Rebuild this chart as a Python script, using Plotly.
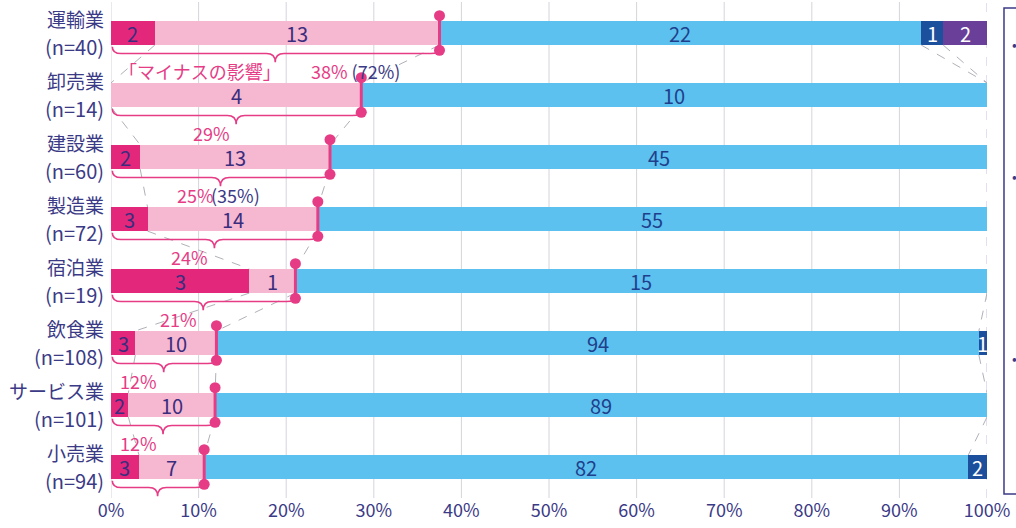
import plotly.graph_objects as go

# ---------------- data ----------------
industries = ["運輸業", "卸売業", "建設業", "製造業", "宿泊業", "飲食業", "サービス業", "小売業"]
n_counts = [40, 14, 60, 72, 19, 108, 101, 94]
major_minus = [2, 0, 2, 3, 3, 3, 2, 3]
minor_minus = [13, 4, 13, 14, 1, 10, 10, 7]
no_effect = [22, 10, 45, 55, 15, 94, 89, 82]
minor_plus = [1, 0, 0, 0, 0, 1, 0, 2]
major_plus = [2, 0, 0, 0, 0, 0, 0, 0]
series_names = ["大いにマイナス", "ややマイナス", "影響なし", "ややプラス", "大いにプラス"]
minus_pct_labels = ["38%", "29%", "25%", "24%", "21%", "12%", "12%", "11%"]
paren_labels = ["(72%)", "", "(35%)", "", "", "", "", ""]
first_row_caption = "「マイナスの影響」"
x_ticks = [0, 10, 20, 30, 40, 50, 60, 70, 80, 90, 100]

# ---------------- styles ----------------
FONT = "Noto Sans CJK JP"
seg_colors = ["#e3287c", "#f6b8d1", "#5cc1ef", "#1c4f9c", "#6a3f99"]
seg_text_colors = ["#3a2d7e", "#3a2d7e", "#1f3f8c", "#ffffff", "#ffffff"]
PINK = "#e63c86"
NAVY = "#3b3a86"
BAR_W = 0.39
HALF = BAR_W / 2

series = [major_minus, minor_minus, no_effect, minor_plus, major_plus]
rows = list(range(len(industries)))

fig = go.Figure()

# cumulative boundaries in percent
cum = []
for i in rows:
    acc = 0.0
    b = [0.0]
    for s in series:
        acc += s[i] / n_counts[i] * 100
        b.append(acc)
    cum.append(b)

# dashed connector lines between adjacent bars
cx, cy = [], []
for i in rows[:-1]:
    for k in range(1, 5):
        a, c = cum[i][k], cum[i + 1][k]
        if (a < 0.01 and c < 0.01) or (a > 99.99 and c > 99.99):
            continue
        cx += [a, c, None]
        cy += [i + HALF, i + 1 - HALF, None]
fig.add_trace(go.Scatter(x=cx, y=cy, mode="lines", showlegend=False, hoverinfo="skip",
                         line=dict(color="#b0b0b8", width=1, dash="dash")))

# stacked bars
for k, s in enumerate(series):
    vals = [s[i] / n_counts[i] * 100 for i in rows]
    fig.add_trace(go.Bar(
        y=rows, x=vals, base=[cum[i][k] for i in rows], orientation="h",
        name=series_names[k], width=BAR_W, marker=dict(color=seg_colors[k], line=dict(width=0)),
        showlegend=False, hoverinfo="skip"))

annotations = []
shapes = []

# segment count labels
for k, s in enumerate(series):
    for i in rows:
        if s[i] == 0:
            continue
        annotations.append(dict(
            x=(cum[i][k] + cum[i][k + 1]) / 2, y=i, xref="x", yref="y",
            text=str(s[i]), showarrow=False,
            font=dict(family=FONT, size=20, color=seg_text_colors[k])))

# end markers of the "minus" portion
mx, my = [], []
for i in rows:
    b2 = cum[i][2]
    mx += [b2, b2, None]
    my += [i - 0.28, i + 0.28, None]
fig.add_trace(go.Scatter(x=mx, y=my, mode="lines+markers", showlegend=False, hoverinfo="skip",
                         line=dict(color=PINK, width=3),
                         marker=dict(color=PINK, size=11)))

# braces and percent labels
for i in rows:
    x0, x1 = 0.15, cum[i][2]
    xm = x1 / 2
    y0, yh, yt = i + 0.22, i + 0.33, i + 0.47
    dx = 1.0
    path = (f"M {x0},{y0} Q {x0},{yh} {x0 + dx},{yh} L {xm - dx},{yh} "
            f"Q {xm},{yh} {xm},{yt} Q {xm},{yh} {xm + dx},{yh} "
            f"L {x1 - dx},{yh} Q {x1},{yh} {x1},{y0}")
    shapes.append(dict(type="path", path=path, xref="x", yref="y",
                       line=dict(color=PINK, width=1.6)))
    ly = i + 0.62
    if i == 0:
        annotations.append(dict(x=xm + 0.9, y=ly, xref="x", yref="y", xanchor="right",
                                text=first_row_caption, showarrow=False,
                                font=dict(family=FONT, size=18, color=PINK)))
        annotations.append(dict(
            x=xm + 3.8, y=ly, xref="x", yref="y", xanchor="left", showarrow=False,
            text=f"<span style='color:{PINK}'>{minus_pct_labels[i]}</span> "
                 f"<span style='color:{NAVY}'>{paren_labels[i]}</span>",
            font=dict(family=FONT, size=18)))
    else:
        annotations.append(dict(x=xm - 0.5, y=ly, xref="x", yref="y", xanchor="right",
                                text=minus_pct_labels[i], showarrow=False,
                                font=dict(family=FONT, size=18, color=PINK)))
        if paren_labels[i]:
            annotations.append(dict(x=xm - 1.3, y=ly, xref="x", yref="y", xanchor="left",
                                    text=paren_labels[i], showarrow=False,
                                    font=dict(family=FONT, size=18, color=NAVY)))

# category labels
for i in rows:
    annotations.append(dict(x=-0.006, y=i - 0.23, xref="paper", yref="y", xanchor="right",
                            text=industries[i], showarrow=False,
                            font=dict(family=FONT, size=19, color=NAVY)))
    annotations.append(dict(x=-0.006, y=i + 0.21, xref="paper", yref="y", xanchor="right",
                            text=f"(n={n_counts[i]})", showarrow=False,
                            font=dict(family=FONT, size=20, color=NAVY)))

# gridlines
for t in x_ticks:
    if t == 100:
        shapes.append(dict(type="line", x0=t, x1=t, y0=0, y1=1, xref="x", yref="paper",
                           layer="below", line=dict(color="#c9bedf", width=1, dash="dash")))
    else:
        shapes.append(dict(type="line", x0=t, x1=t, y0=0, y1=1, xref="x", yref="paper",
                           layer="below", line=dict(color="#d4d4dc", width=1)))

# partially visible legend box at the right
shapes.append(dict(type="rect", xref="paper", yref="paper", x0=1.0194, x1=1.3,
                   y0=0.008, y1=0.988, line=dict(color=NAVY, width=1.5)))
for py in [32, 164, 370]:
    annotations.append(dict(x=1.037, y=(498 - py) / 496, xref="paper", yref="paper",
                            text="•", showarrow=False,
                            font=dict(family=FONT, size=14, color=NAVY)))

fig.update_layout(
    width=1016, height=528,
    margin=dict(l=111, r=29, t=2, b=30),
    paper_bgcolor="white", plot_bgcolor="white",
    barmode="overlay", bargap=0,
    shapes=shapes, annotations=annotations,
    xaxis=dict(range=[0, 100], tickvals=x_ticks, ticktext=[f"{t}%" for t in x_ticks],
               showgrid=False, zeroline=False, showline=False, ticks="",
               tickfont=dict(family=FONT, size=18, color=NAVY)),
    yaxis=dict(range=[7.5, -0.5], showticklabels=False, showgrid=False, zeroline=False,
               showline=False, ticks=""),
    showlegend=False,
)

fig.write_html("out.html", config={"displayModeBar": False},
               post_script="document.body.style.margin='0';")
